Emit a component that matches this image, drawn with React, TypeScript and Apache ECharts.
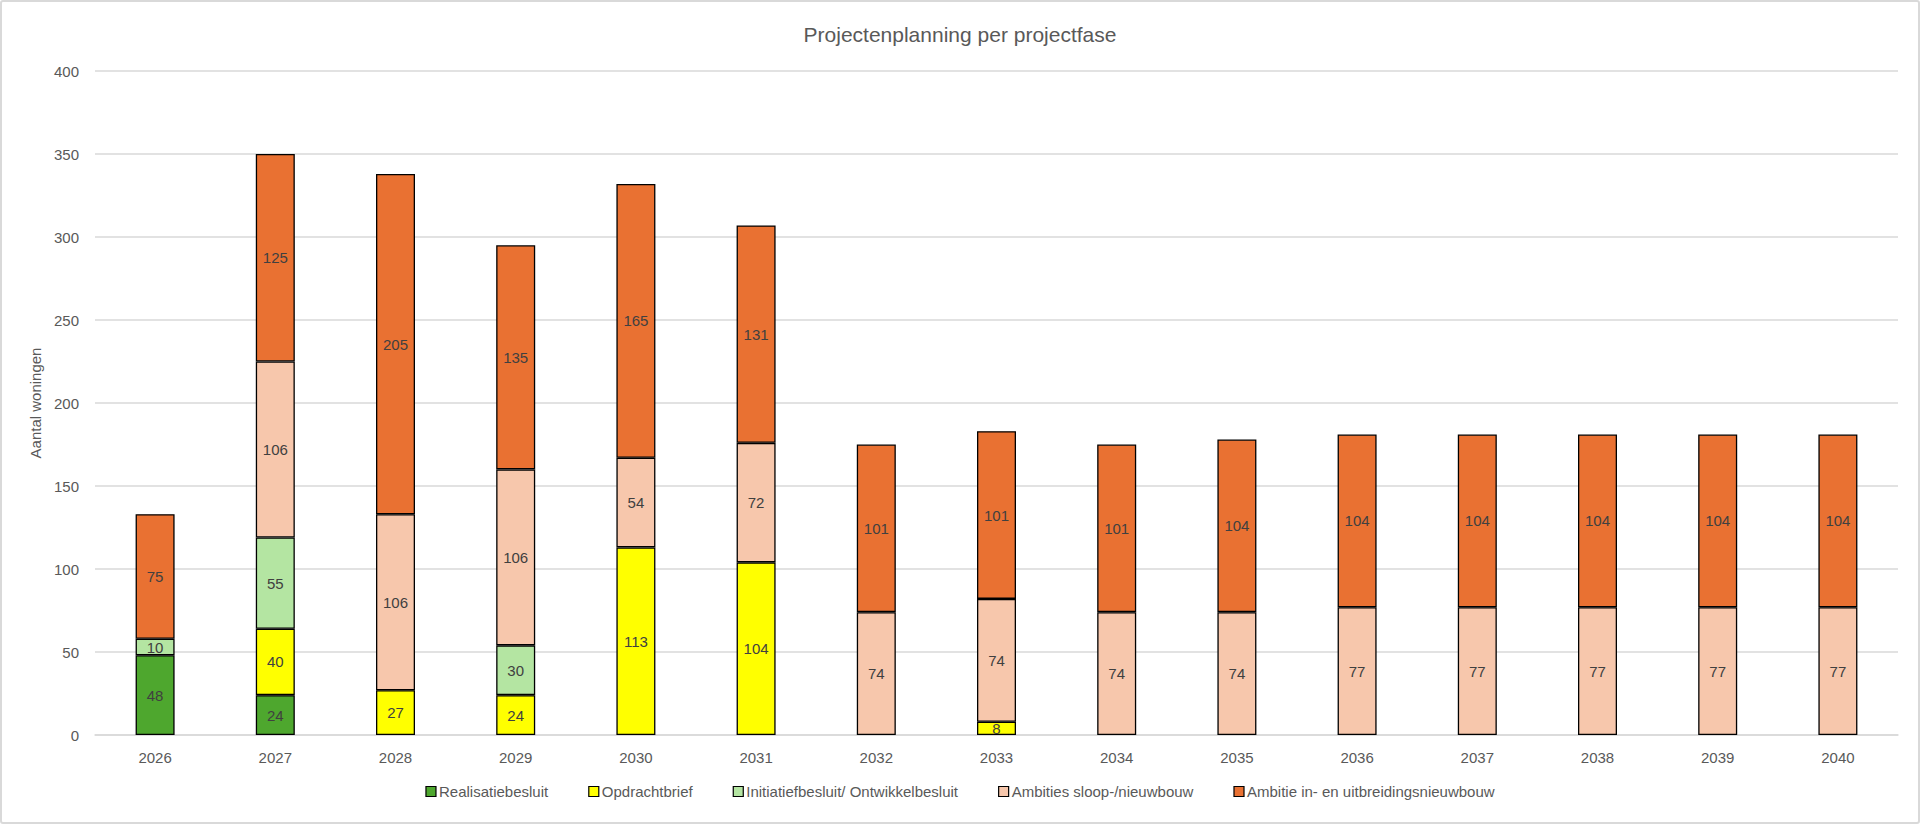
import React, { useEffect, useRef } from "react";
import * as echarts from "echarts";

const years = ["2026","2027","2028","2029","2030","2031","2032","2033","2034","2035","2036","2037","2038","2039","2040"];
const realisatiebesluit = [48, 24, 0, 0, 0, 0, 0, 0, 0, 0, 0, 0, 0, 0, 0];
const opdrachtbrief = [0, 40, 27, 24, 113, 104, 0, 8, 0, 0, 0, 0, 0, 0, 0];
const initiatiefbesluit = [10, 55, 0, 30, 0, 0, 0, 0, 0, 0, 0, 0, 0, 0, 0];
const ambitiesSloop = [0, 106, 106, 106, 54, 72, 74, 74, 74, 74, 77, 77, 77, 77, 77];
const ambitieUitbreiding = [75, 125, 205, 135, 165, 131, 101, 101, 101, 104, 104, 104, 104, 104, 104];
const yTicks = [0, 50, 100, 150, 200, 250, 300, 350, 400];

const seriesDefs = [
  { name: "Realisatiebesluit", data: realisatiebesluit, color: "#4EA72E" },
  { name: "Opdrachtbrief", data: opdrachtbrief, color: "#FFFF00" },
  { name: "Initiatiefbesluit/ Ontwikkelbesluit", data: initiatiefbesluit, color: "#B4E5A2" },
  { name: "Ambities sloop-/nieuwbouw", data: ambitiesSloop, color: "#F7C7AC" },
  { name: "Ambitie in- en uitbreidingsnieuwbouw", data: ambitieUitbreiding, color: "#E97132" },
];

const FONT = "'Liberation Sans', Arial, sans-serif";

export default function App() {
  const ref = useRef<HTMLDivElement>(null);
  useEffect(() => {
    if (!ref.current) return;
    const chart = echarts.init(ref.current, null, { renderer: "svg" });
    chart.setOption({
      animation: false,
      backgroundColor: "transparent",
      textStyle: { fontFamily: FONT },
      title: {
        text: "Projectenplanning per projectfase",
        left: "center",
        top: 19,
        textStyle: { fontFamily: FONT, fontSize: 21, fontWeight: "normal", color: "#595959" },
      },
      legend: {
        bottom: 20,
        left: "center",
        itemWidth: 10,
        itemHeight: 10,
        itemGap: 40,
        icon: "rect",
        textStyle: { fontFamily: FONT, fontSize: 15, color: "#595959", padding: [0, 0, 0, -2] },
        data: seriesDefs.map((s) => ({
          name: s.name,
          itemStyle: { color: s.color, borderColor: "#000", borderWidth: 1.2 },
        })),
      },
      grid: { left: 95, right: 22, top: 71, bottom: 89, containLabel: false },
      xAxis: {
        type: "category",
        data: years,
        axisLine: { lineStyle: { color: "#d9d9d9", width: 1.5 } },
        axisTick: { show: false },
        axisLabel: { color: "#595959", fontSize: 15, margin: 15, fontFamily: FONT },
      },
      yAxis: {
        type: "value",
        min: yTicks[0],
        max: yTicks[yTicks.length - 1],
        interval: 50,
        name: "Aantal woningen",
        nameLocation: "middle",
        nameGap: 50,
        nameTextStyle: { color: "#595959", fontSize: 15, fontFamily: FONT },
        axisLine: { show: false },
        axisTick: { show: false },
        axisLabel: { color: "#595959", fontSize: 15, margin: 16, fontFamily: FONT },
        splitLine: { lineStyle: { color: "#d9d9d9", width: 1.5 } },
      },
      series: seriesDefs.map((s) => ({
        name: s.name,
        type: "bar",
        stack: "total",
        barWidth: 39,
        data: s.data.map((v) => (v === 0 ? null : v)),
        itemStyle: { color: s.color, borderColor: "#000", borderWidth: 1.3 },
        label: {
          show: true,
          position: "inside",
          color: "#404040",
          fontSize: 15,
          fontFamily: FONT,
        },
      })),
    });
    return () => chart.dispose();
  }, []);
  return (
    <div
      style={{
        position: "fixed",
        left: 0,
        top: 0,
        width: 1920,
        height: 824,
        background: "#fff",
      }}
    >
      <div ref={ref} style={{ position: "absolute", left: 0, top: 0, width: 1920, height: 824 }} />
      <div
        style={{
          position: "absolute",
          left: 0,
          top: 0,
          width: 1920,
          height: 824,
          boxSizing: "border-box",
          border: "2px solid #d9d9d9",
          borderRadius: 3,
          pointerEvents: "none",
        }}
      />
    </div>
  );
}
